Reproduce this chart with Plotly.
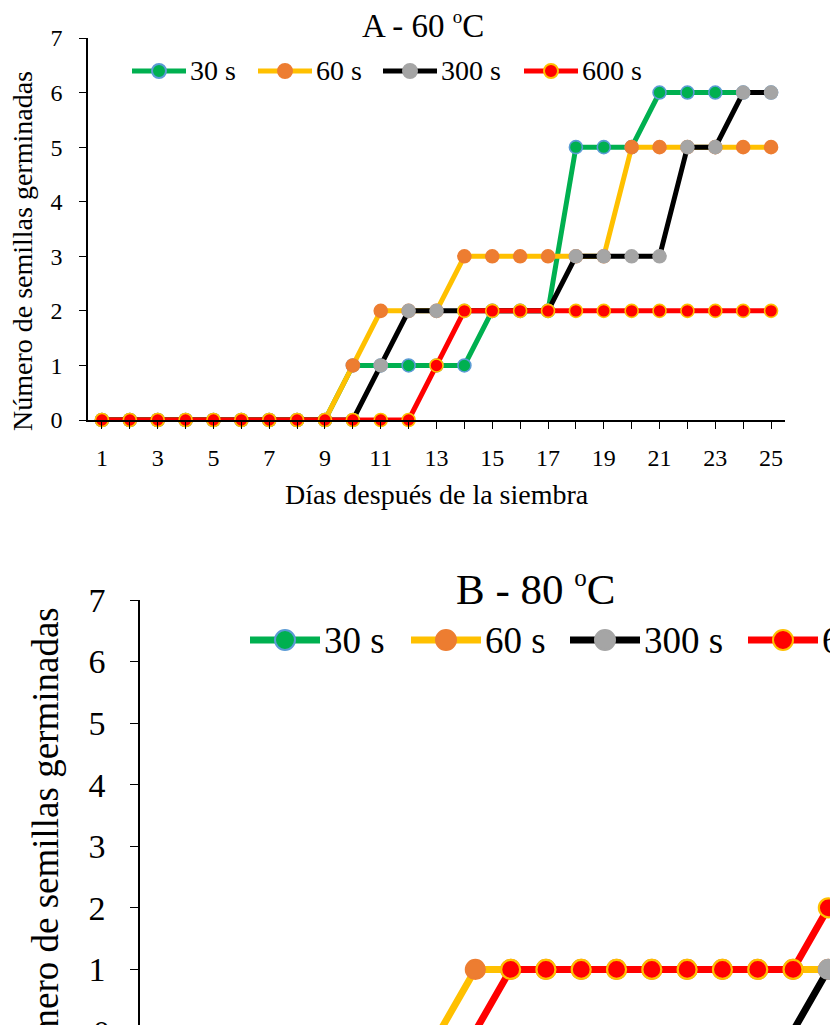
import plotly.graph_objects as go

# ---------------- data ----------------
days = [1, 2, 3, 4, 5, 6, 7, 8, 9, 10, 11, 12, 13, 14, 15, 16, 17, 18, 19, 20, 21, 22, 23, 24, 25]
x_tick_labels = ["1", "", "3", "", "5", "", "7", "", "9", "", "11", "", "13", "", "15", "",
                 "17", "", "19", "", "21", "", "23", "", "25"]
y_ticks = [0, 1, 2, 3, 4, 5, 6, 7]
series_names = ["30 s", "60 s", "300 s", "600 s"]

# Panel A - 60 ºC
a_30s = [0, 0, 0, 0, 0, 0, 0, 0, 0, 1, 1, 1, 1, 1, 2, 2, 2, 5, 5, 5, 6, 6, 6, 6, 6]
a_60s = [0, 0, 0, 0, 0, 0, 0, 0, 0, 1, 2, 2, 2, 3, 3, 3, 3, 3, 3, 5, 5, 5, 5, 5, 5]
a_300s = [0, 0, 0, 0, 0, 0, 0, 0, 0, 0, 1, 2, 2, 2, 2, 2, 2, 3, 3, 3, 3, 5, 5, 6, 6]
a_600s = [0, 0, 0, 0, 0, 0, 0, 0, 0, 0, 0, 0, 1, 2, 2, 2, 2, 2, 2, 2, 2, 2, 2, 2, 2]

# Panel B - 80 ºC
b_30s = [0, 0, 0, 0, 0, 0, 0, 0, 0, 0, 0, 0, 0, 0, 0, 0, 0, 0, 0, 0, 0, 0, 0, 0, 0]
b_60s = [0, 0, 0, 0, 0, 0, 0, 0, 0, 1, 1, 1, 1, 1, 1, 1, 1, 1, 1, 1, 1, 1, 1, 1, 1]
b_300s = [0, 0, 0, 0, 0, 0, 0, 0, 0, 0, 0, 0, 0, 0, 0, 0, 0, 0, 0, 1, 1, 1, 1, 1, 1]
b_600s = [0, 0, 0, 0, 0, 0, 0, 0, 0, 0, 1, 1, 1, 1, 1, 1, 1, 1, 1, 2, 2, 2, 2, 2, 2]

title_a = "A - 60 <sup><span style='font-size:19px'>o</span></sup>C"
title_b = "B - 80 <sup><span style='font-size:25px'>o</span></sup>C"
x_title = "Días después de la siembra"
y_title = "Número de semillas germinadas"

# ---------------- styles ----------------
OFF = 8            # page body margin
VW, VH = 838, 1025  # browser viewport
W, H = VW - OFF, VH - OFF
FONT = "Liberation Serif"
line_colors = ["#00B050", "#FFC000", "#000000", "#FF0000"]
marker_fill = ["#00B050", "#ED7D31", "#A5A5A5", "#FF0000"]
marker_edge = ["#5B9BD5", "#ED7D31", "#A5A5A5", "#FFC000"]


def px(x):
    return (x - OFF) / W


def py(y):
    return 1 - (y - OFF) / H


fig = go.Figure()

panels = [
    ("x", "y", [a_30s, a_60s, a_300s, a_600s], 5, 13, 1.6),
    ("x2", "y2", [b_30s, b_60s, b_300s, b_600s], 7, 19, 2.2),
]
for xa, ya, data, lw, ms, mlw in panels:
    for i, name in enumerate(series_names):
        fig.add_trace(go.Scatter(
            x=days, y=data[i], name=name, mode="lines+markers",
            xaxis=xa, yaxis=ya, showlegend=False, cliponaxis=False,
            line=dict(color=line_colors[i], width=lw),
            marker=dict(size=ms, color=marker_fill[i],
                        line=dict(color=marker_edge[i], width=mlw)),
        ))

axis_common = dict(showgrid=False, zeroline=False, showline=True, linecolor="#000000",
                   linewidth=1.6, ticks="outside", tickcolor="#000000", tickwidth=1.4,
                   fixedrange=True, automargin=False)

# B panel geometry (partly outside the viewport, as in the reference)
b_left, b_top, b_zero, b_unit, b_step = 140, 600, 1031.0, 61.6, 35.3

fig.update_layout(
    xaxis=dict(domain=[px(88), px(785)], range=[0.5, 25.5], anchor="y",
               tickmode="array", tickvals=days, ticktext=x_tick_labels, ticklen=7,
               tickfont=dict(family=FONT, size=24, color="#000"), ticklabelstandoff=8,
               **axis_common),
    yaxis=dict(domain=[py(420), py(38)], range=[0, 7], anchor="x",
               tickmode="array", tickvals=y_ticks, ticklen=7,
               tickfont=dict(family=FONT, size=24, color="#000"), ticklabelstandoff=12,
               **axis_common),
    xaxis2=dict(domain=[px(b_left), 1], range=[0.5, 0.5 + (VW - b_left) / b_step], anchor="y2",
                tickmode="array", tickvals=days, ticktext=x_tick_labels, ticklen=8,
                showticklabels=False, **axis_common),
    yaxis2=dict(domain=[0, py(b_top)], range=[(b_zero - VH) / b_unit, 7], anchor="x2",
                tickmode="array", tickvals=y_ticks, ticklen=8,
                tickfont=dict(family=FONT, size=34, color="#000"), ticklabelstandoff=18,
                **axis_common),
)

annotations = []
shapes = []

annotations.append(dict(text=title_a, x=px(423), y=py(25), xref="paper", yref="paper",
                        showarrow=False, xanchor="center", yanchor="middle",
                        font=dict(family=FONT, size=33, color="#000")))
annotations.append(dict(text=x_title, x=px(437), y=py(494), xref="paper", yref="paper",
                        showarrow=False, xanchor="center", yanchor="middle",
                        font=dict(family=FONT, size=28, color="#000")))
annotations.append(dict(text=y_title, x=px(22), y=py(251), xref="paper", yref="paper",
                        showarrow=False, xanchor="center", yanchor="middle", textangle=-90,
                        font=dict(family=FONT, size=28, color="#000")))
annotations.append(dict(text=title_b, x=px(535), y=py(588), xref="paper", yref="paper",
                        showarrow=False, xanchor="center", yanchor="middle",
                        font=dict(family=FONT, size=43, color="#000")))
annotations.append(dict(text=y_title, x=px(45), y=py(845), xref="paper", yref="paper",
                        showarrow=False, xanchor="center", yanchor="middle", textangle=-90,
                        font=dict(family=FONT, size=37, color="#000")))
annotations.append(dict(text="0", x=px(112), y=py(1032), xref="paper", yref="paper",
                        showarrow=False, xanchor="right", yanchor="middle",
                        font=dict(family=FONT, size=34, color="#000")))

legends = [
    (71, [132, 258, 383, 524], 54, 28, 5, 14),
    (640, [250, 411, 570, 748], 70, 37, 7, 20),
]
for ly, x0s, llen, fs, lw, msz in legends:
    for i, name in enumerate(series_names):
        x0 = x0s[i]
        shapes.append(dict(type="line", xref="paper", yref="paper",
                           x0=px(x0), x1=px(x0 + llen), y0=py(ly), y1=py(ly),
                           line=dict(color=line_colors[i], width=lw)))
        r = msz / 2
        shapes.append(dict(type="circle", xref="paper", yref="paper",
                           xsizemode="pixel", ysizemode="pixel",
                           xanchor=px(x0 + llen / 2), yanchor=py(ly),
                           x0=-r, x1=r, y0=-r, y1=r,
                           fillcolor=marker_fill[i],
                           line=dict(color=marker_edge[i], width=2)))
        annotations.append(dict(text=name, x=px(x0 + llen + 2), y=py(ly),
                                xref="paper", yref="paper", showarrow=False,
                                xanchor="left", yanchor="middle",
                                font=dict(family=FONT, size=fs, color="#000")))

fig.update_layout(
    width=W, height=H, margin=dict(l=0, r=0, t=0, b=0),
    paper_bgcolor="white", plot_bgcolor="white",
    annotations=annotations, shapes=shapes, showlegend=False,
)

fig.write_html("out.html")
